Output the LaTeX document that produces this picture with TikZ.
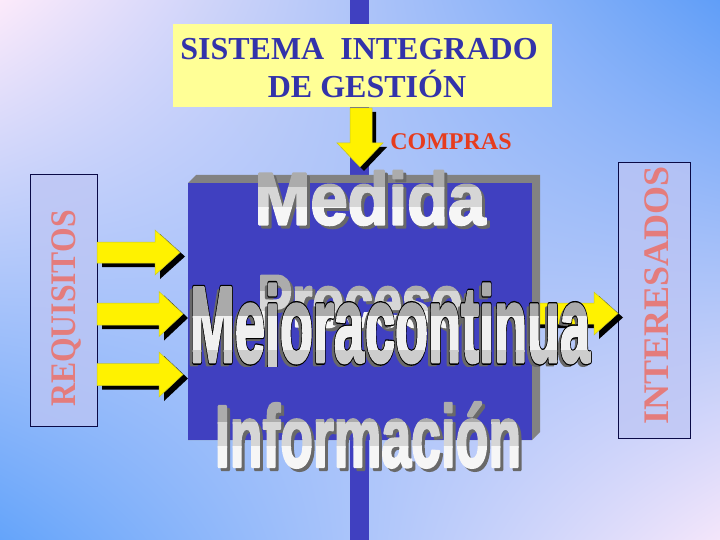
\documentclass[tikz,border=0pt]{standalone}
\usepackage{fontspec}
\setmainfont{Liberation Serif}
\newfontfamily\waf{Liberation Sans Bold}[FakeBold=3]
\newfontfamily\wafo{Liberation Sans Bold}[FakeBold=5.5]
\usetikzlibrary{calc,shadings}
\definecolor{bgpink}{RGB}{252,234,250}
\definecolor{bgpink2}{RGB}{244,230,250}
\definecolor{bgblue}{RGB}{96,158,248}
\definecolor{bgblue2}{RGB}{100,164,250}
\definecolor{barblue}{RGB}{64,64,192}
\definecolor{ttlyellow}{RGB}{255,255,150}
\definecolor{ttlblue}{RGB}{51,51,170}
\definecolor{salmon}{RGB}{228,124,124}
\definecolor{comprasred}{RGB}{230,60,30}
\definecolor{lav}{RGB}{190,198,244}
\definecolor{navy}{RGB}{10,10,70}
\definecolor{boxgrey}{RGB}{130,130,130}
\definecolor{shadowgrey}{RGB}{105,105,105}
\definecolor{arrowedge}{RGB}{200,200,40}
\definecolor{wa1}{RGB}{172,172,172}
\definecolor{wa2}{RGB}{214,214,214}
\definecolor{wa3}{RGB}{246,246,246}
\definecolor{wm1}{RGB}{170,170,170}
\definecolor{wm2}{RGB}{240,240,240}
\definecolor{wm3}{RGB}{205,205,205}

\newcommand\medtxt[1]{\scalebox{1.34}[1.48]{#1\fontsize{50}{60}\selectfont Medida}}
\newcommand\protxt[1]{\scalebox{1.04}[1.48]{#1\fontsize{50}{60}\selectfont Proceso}}
\newcommand\inftxt[1]{\scalebox{1.07}[1.76]{#1\fontsize{50}{60}\selectfont Información}}
\newcommand\mejtxt[1]{\scalebox{1.08}[2.15]{#1\fontsize{50}{60}\selectfont\spaceskip=1pt Mejora continua}}

% block arrow pointing right: tail x, centre y, shaft half, head base x, head half, tip x
\newcommand\myharrow[6]{%
  \fill[black] (#1+5,#2-#3+4) -- (#4+5,#2-#3+4) -- (#4+5,#2-#5+4) -- (#6+5,#2+4)
     -- (#4+5,#2+#5+4) -- (#4+5,#2+#3+4) -- (#1+5,#2+#3+4) -- cycle;
  \filldraw[yarrow] (#1,#2-#3) -- (#4,#2-#3) -- (#4,#2-#5) -- (#6,#2)
     -- (#4,#2+#5) -- (#4,#2+#3) -- (#1,#2+#3) -- cycle;}

% word art in three tone bands: name, x, y, text macro, half width, half height, c1, c2, c3
\newcommand\wbands[9]{%
  \foreach \c/\k in {#7/0,#8/1,#9/2}{%
    \begin{scope}
      \clip (#2-#5,#3-#6+\k*2*#6/3-0.4) rectangle (#2+#5,#3-#6+\k*2*#6/3+2*#6/3+0.4);
      \node[wa, text=\c] (#1\k) at (#2,#3) {#4{\waf}};
    \end{scope}}}
\newcommand\wart[6]{%
  \node[wa, text=shadowgrey] (#1s) at (#2+3,#3+3) {#4{\waf}};
  \wbands{#1}{#2}{#3}{#4}{#5}{#6}{wa1}{wa2}{wa3}}

\begin{document}
\begin{tikzpicture}[x=1pt,y=-1pt,
  wa/.style={inner sep=0pt, outer sep=0pt, anchor=center},
  yarrow/.style={fill=yellow, draw=arrowedge, line width=0.5pt, line join=miter},
  ttl/.style={font=\bfseries\fontsize{32}{38}\selectfont, text=ttlblue, inner sep=0pt, anchor=base},
  sidebox/.style={fill=lav, fill opacity=0.75, draw=navy, line width=0.8pt, inner sep=0pt},
  sidetext/.style={font=\bfseries\fontsize{36}{40}\selectfont, text=salmon, inner sep=0pt, rotate=90, anchor=base}]
\useasboundingbox (0,0) rectangle (720,540);
% background
\shade[upper left=bgpink, upper right=bgblue, lower left=bgblue2, lower right=bgpink2]
  (0,0) rectangle (720,540);
% vertical bar
\fill[barblue] (350,0) rectangle (369,540);
% title
\node[fill=ttlyellow, minimum width=379pt, minimum height=83pt, inner sep=0pt] (title) at (362.5,65.5) {};
\node[ttl] (t1) at (359,60) {SISTEMA\ \ INTEGRADO};
\node[ttl] (t2) at (367,98) {DE GESTIÓN};
% down arrow
\fill[black] (354,112) -- (376,112) -- (376,147) -- (387,147) -- (364,171) -- (341,147) -- (354,147) -- cycle;
\filldraw[yarrow] (350,108) -- (372,108) -- (372,143) -- (383,143) -- (360,167) -- (337,143) -- (350,143) -- cycle;
\node[font=\bfseries\fontsize{24}{28}\selectfont, text=comprasred, inner sep=0pt, anchor=base] (compras) at (451,150) {COMPRAS};
% side boxes
\node[sidebox, minimum width=67pt, minimum height=252pt] (req) at (63.5,300) {};
\node[sidetext] (reqtxt) at (75,308.5) {\scalebox{0.88}[1]{REQUISITOS}};
\node[sidebox, minimum width=72pt, minimum height=276pt] (int) at (654,300) {};
\node[sidetext] (inttxt) at (668,295.5) {INTERESADOS};
% arrows
\myharrow{97}{252.5}{10.5}{155}{22.5}{180}
\myharrow{97}{314}{11}{159}{22.5}{183}
\myharrow{97}{374.5}{11}{159}{22.5}{183}
\myharrow{530}{313.5}{10.5}{594}{21.5}{618}
% central block
\fill[boxgrey] (188,183) -- (196,175) -- (540,175) -- (540,432) -- (532,440) -- (188,440) -- cycle;
\node[fill=barblue, minimum width=344pt, minimum height=257pt, inner sep=0pt] (core) at (360,311.5) {};
% word art
\begin{scope}[line join=round, miter limit=1]
\wart{med}{370}{198}{\medtxt}{150}{30}
\wart{pro}{360}{301.5}{\protxt}{140}{30}
\wart{inf}{368}{435}{\inftxt}{185}{37}
\begin{scope}
\clip (150,260) rectangle (640,366);
\node[wa, text=shadowgrey] (mejs) at (387,337) {\mejtxt{\waf}};
\node[wa, text=black] (mejo) at (390,334) {\mejtxt{\wafo}};
\wbands{mej}{390}{334}{\mejtxt}{230}{52}{wm1}{wm2}{wm3}
\end{scope}
\end{scope}
\end{tikzpicture}
\end{document}
